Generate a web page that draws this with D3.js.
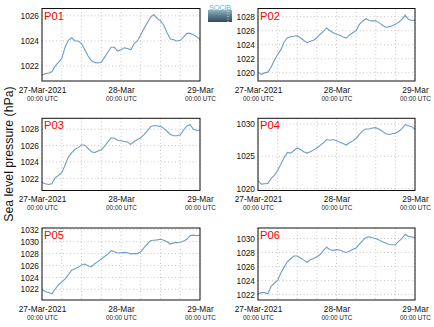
<!DOCTYPE html>
<html><head><meta charset="utf-8">
<script src="https://cdn.jsdelivr.net/npm/d3@7"></script>
<style>
html,body{margin:0;padding:0;background:#fff;}
svg{display:block;font-family:"Liberation Sans",Arial,Helvetica,sans-serif;}
</style></head>
<body>
<script>
// ---------- DATA (hourly, 27-Mar-2021 00:00 UTC .. 29-Mar-2021 00:00 UTC) ----------
const stations = ["P01","P02","P03","P04","P05","P06"];
const startTime = "2021-03-27T00:00:00Z";
const p01 = [1021.3,1021.4,1021.45,1021.55,1022.0,1022.3,1022.6,1023.5,1024.05,1024.25,1024.0,1024.0,1023.8,1023.3,1022.8,1022.45,1022.3,1022.25,1022.3,1022.7,1023.1,1023.5,1023.5,1023.2,1023.3,1023.45,1023.4,1023.3,1023.8,1024.0,1024.5,1025.0,1025.45,1025.9,1026.1,1025.8,1025.6,1025.25,1024.65,1024.15,1024.1,1024.0,1024.05,1024.3,1024.6,1024.6,1024.5,1024.35,1024.1];
const p02 = [1020.1,1019.8,1020.0,1020.1,1020.8,1021.8,1022.6,1023.3,1024.4,1025.0,1025.15,1025.2,1025.3,1025.0,1024.6,1024.3,1024.5,1024.65,1025.0,1025.5,1025.9,1026.4,1026.0,1025.7,1025.5,1025.35,1025.1,1024.95,1025.4,1025.7,1026.05,1026.9,1027.35,1027.7,1027.45,1027.4,1027.4,1027.15,1026.8,1026.5,1026.55,1026.7,1026.9,1027.2,1027.6,1028.2,1027.6,1027.45,1027.5];
const p03 = [1021.5,1021.35,1021.25,1021.35,1022.1,1022.35,1022.7,1023.6,1024.6,1025.1,1025.55,1025.75,1026.1,1026.05,1025.65,1025.25,1025.15,1025.35,1025.5,1025.9,1026.45,1026.95,1026.9,1026.65,1026.6,1026.5,1026.4,1026.15,1026.5,1026.75,1026.95,1027.35,1027.8,1028.3,1028.45,1028.4,1028.35,1028.1,1027.75,1027.35,1027.2,1027.2,1027.3,1027.9,1028.4,1028.55,1028.0,1027.85,1027.9];
const p04 = [1021.25,1020.7,1020.75,1020.8,1021.55,1022.05,1022.8,1023.8,1024.8,1025.6,1025.5,1025.9,1026.3,1026.05,1025.7,1025.5,1025.7,1026.0,1026.3,1026.7,1027.1,1027.6,1027.5,1027.6,1027.4,1027.2,1027.0,1026.75,1027.1,1027.4,1027.8,1028.4,1028.95,1029.25,1029.25,1029.4,1029.45,1029.2,1028.9,1028.5,1028.4,1028.5,1028.6,1028.85,1029.3,1029.9,1029.75,1029.6,1029.2];
const p05 = [1022.0,1021.6,1021.45,1021.25,1022.05,1022.75,1023.2,1023.75,1024.45,1025.2,1025.45,1025.7,1026.1,1026.25,1025.95,1025.75,1026.3,1026.65,1027.1,1027.5,1027.9,1028.5,1028.3,1028.1,1028.15,1028.2,1028.15,1027.95,1028.0,1028.0,1028.3,1029.0,1029.6,1030.2,1030.25,1030.3,1030.4,1030.25,1030.0,1029.6,1029.8,1029.85,1029.9,1030.1,1030.4,1031.0,1031.1,1031.0,1031.1];
const p06 = [1022.1,1022.25,1022.25,1022.1,1023.15,1023.6,1024.0,1025.1,1025.9,1026.7,1027.1,1027.5,1027.5,1027.2,1026.9,1026.6,1026.95,1027.15,1027.4,1027.7,1028.3,1028.75,1028.4,1028.3,1028.4,1028.35,1028.15,1028.0,1028.2,1028.45,1028.65,1029.2,1029.7,1030.15,1030.25,1030.1,1030.0,1029.8,1029.55,1029.35,1029.15,1029.1,1029.1,1029.6,1030.0,1030.6,1030.3,1030.2,1030.1];
const seriesValues = [p01,p02,p03,p04,p05,p06];
const yTicks = [[1022,1024,1026],[1020,1022,1024,1026,1028],[1022,1024,1026,1028],[1020,1025,1030],[1022,1024,1026,1028,1030,1032],[1022,1024,1026,1028,1030]];
const yDomains = [[1020.82,1026.58],[1018.84,1029.16],[1020.52,1029.33],[1019.7,1030.9],[1020.2,1032.3],[1021.2,1031.5]];
const xTickDates = ["2021-03-27T00:00:00Z","2021-03-28T00:00:00Z","2021-03-29T00:00:00Z"];
const xTickLabels = ["27-Mar-2021","28-Mar","29-Mar"];
const xTickSub = "00:00 UTC";
const yAxisTitle = "Sea level pressure (hPa)";

// ---------- LAYOUT ----------
const W = 434, H = 327;
const colX = [[42,200],[258,415]];
const rowY = [[8.5,81],[118.3,190.5],[228,300]];

const svg = d3.select("body").append("svg").attr("width",W).attr("height",H);

const t0 = new Date(startTime);
const tEnd = new Date(xTickDates[2]);

seriesValues.forEach((vals,i)=>{
  const col = i%2, row = Math.floor(i/2);
  const [x0,x1] = colX[col], [y0,y1] = rowY[row];
  const x = d3.scaleUtc().domain([t0,tEnd]).range([x0,x1]);
  const y = d3.scaleLinear().domain(yDomains[i]).range([y1,y0]);
  const data = vals.map((v,k)=>({t:new Date(t0.getTime()+k*3600e3), v}));
  const g = svg.append("g");

  // grid
  const gridTimes = d3.utcHour.every(6).range(t0, new Date(tEnd.getTime()+1));
  g.selectAll(".vg").data(gridTimes).join("line")
    .attr("x1",d=>x(d)).attr("x2",d=>x(d)).attr("y1",y0).attr("y2",y1)
    .attr("stroke","#b8b8b8").attr("stroke-width",0.8).attr("stroke-dasharray","1,2.5");
  g.selectAll(".hg").data(yTicks[i]).join("line")
    .attr("x1",x0).attr("x2",x1).attr("y1",d=>y(d)).attr("y2",d=>y(d))
    .attr("stroke","#b8b8b8").attr("stroke-width",0.8).attr("stroke-dasharray","1,2.5");

  // line
  g.append("path").datum(data)
    .attr("d",d3.line().x(d=>x(d.t)).y(d=>y(d.v)))
    .attr("fill","none").attr("stroke","#6e9cca").attr("stroke-width",1.1);

  // frame
  g.append("rect").attr("x",x0).attr("y",y0).attr("width",x1-x0).attr("height",y1-y0)
    .attr("fill","none").attr("stroke","#111").attr("stroke-width",1);

  // y axis labels
  const ya = d3.axisLeft(y).tickValues(yTicks[i]).tickSize(0).tickPadding(3).tickFormat(d3.format("d"));
  const yg = g.append("g").attr("transform",`translate(${x0},0)`).call(ya);
  yg.select(".domain").remove();
  yg.selectAll("text").attr("font-size","8.3px").attr("fill","#111").attr("font-family","Liberation Sans, Arial, sans-serif");

  // x axis labels
  const xd = xTickDates.map(s=>new Date(s));
  const xa = d3.axisBottom(x).tickValues(xd).tickSize(0).tickPadding(6)
    .tickFormat((d,k)=>xTickLabels[k]);
  const xg = g.append("g").attr("transform",`translate(0,${y1})`).call(xa);
  xg.select(".domain").remove();
  xg.selectAll("text").attr("font-size","8.3px").attr("fill","#111").attr("font-family","Liberation Sans, Arial, sans-serif");
  xg.selectAll(".tick").append("text").text(xTickSub)
    .attr("y",19.5).attr("text-anchor","middle").attr("font-size","6.4px").attr("fill","#222");

  // panel label
  g.append("text").attr("x",x0+2).attr("y",y0+11).text(stations[i])
    .attr("fill","#ff0000").attr("font-size","11.2px");
});

// y axis title
svg.append("text").attr("transform","translate(13,154) rotate(-90)")
  .attr("text-anchor","middle").attr("font-size","12.3px").attr("fill","#111").text(yAxisTitle);

// logo
const defs = svg.append("defs");
const lg = defs.append("linearGradient").attr("id","lg").attr("x1",0).attr("y1",0).attr("x2",0).attr("y2",1);
lg.append("stop").attr("offset","0%").attr("stop-color","#8fb4c4");
lg.append("stop").attr("offset","45%").attr("stop-color","#5f7f92");
lg.append("stop").attr("offset","100%").attr("stop-color","#34495a");
svg.append("rect").attr("x",208).attr("y",10).attr("width",24).attr("height",12).attr("fill","url(#lg)");
svg.append("line").attr("x1",228).attr("x2",228).attr("y1",11).attr("y2",22).attr("stroke","#fff").attr("stroke-width",0.8).attr("stroke-dasharray","1,1.5");
svg.append("text").attr("x",220).attr("y",9.5).attr("text-anchor","middle").attr("font-size","7.5px").attr("fill","#4fc3d9").attr("letter-spacing","-0.3px").text("SOCIB");
</script>
</body></html>
